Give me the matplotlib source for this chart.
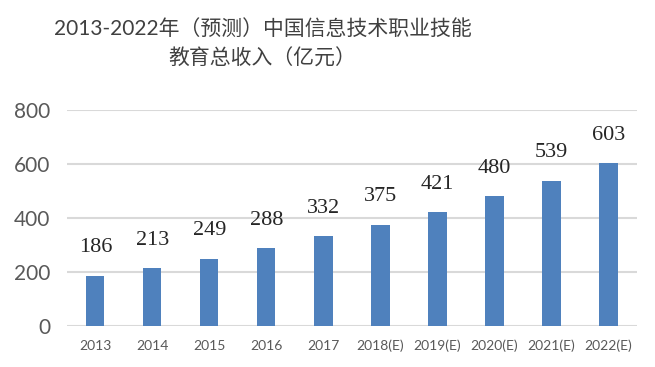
import matplotlib
matplotlib.use("Agg")
import matplotlib.pyplot as plt

categories = ["2013", "2014", "2015", "2016", "2017", "2018(E)", "2019(E)", "2020(E)", "2021(E)", "2022(E)"]
values = [186, 213, 249, 288, 332, 375, 421, 480, 539, 603]
yticks = [0, 200, 400, 600, 800]
title = "2013-2022年（预测）中国信息技术职业技能\n教育总收入（亿元）"

fig = plt.figure(figsize=(6.55, 3.67), dpi=100)
ax = fig.add_axes([0.102, 0.112, 0.8705, 0.588])

x = list(range(len(categories)))
ax.bar(x, values, width=0.32, color="#4F81BD", zorder=3)
for xi, v in zip(x, values):
    ax.annotate(str(v), (xi, v), xytext=(0, 20), textcoords="offset points",
                ha="center", va="center", fontsize=16,
                family=["Liberation Serif"], color="#262626")

ax.set_xlim(-0.5, len(categories) - 0.5)
ax.set_ylim(0, 800)
ax.set_yticks(yticks)
ax.set_yticklabels([str(t) for t in yticks], fontsize=15, family=["Lato", "DejaVu Sans"], color="#595959")
ax.set_xticks(x)
ax.set_xticklabels(categories, fontsize=10, family=["Lato", "DejaVu Sans"], color="#595959")
ax.tick_params(axis="y", length=0, pad=12)
ax.tick_params(axis="x", length=0, pad=10)
ax.grid(axis="y", color="#D9D9D9", linewidth=1.5, zorder=0)
for s in ax.spines.values():
    s.set_visible(False)

fig.text(0.401, 0.880, title, ha="center", va="center", fontsize=15,
         family=["Lato", "Noto Sans CJK SC"], color="#404040", linespacing=1.6)

fig.savefig("out.png", dpi=100)
